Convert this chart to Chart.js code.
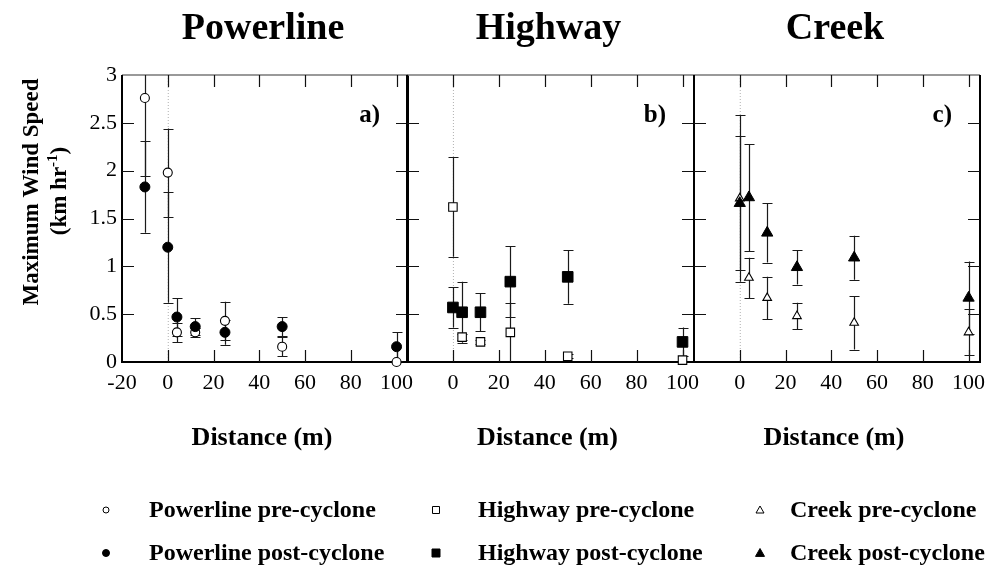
<!DOCTYPE html>
<html>
<head>
<meta charset="utf-8">
<script src="https://cdn.jsdelivr.net/npm/chart.js@4"></script>
<style>
  html, body { margin: 0; padding: 0; background: #fff; }
  #wrap { position: relative; width: 990px; height: 572px; }
  #wrap canvas { position: absolute; left: 0; top: 0; }
</style>
</head>
<body>
<div id="wrap">
  <canvas id="painelA" width="990" height="572"></canvas>
  <canvas id="painelB" width="990" height="572"></canvas>
  <canvas id="painelC" width="990" height="572"></canvas>
</div>
<script>
const SERIF = "'Liberation Serif', 'Times New Roman', serif";

// Powerline
const distPowerline = [-10, 0, 4, 12, 25, 50, 100];
const powerlinePre = [2.76, 1.98, 0.31, 0.31, 0.43, 0.16, 0.00];
const powerlinePreErro = [0.82, 0.46, 0.10, 0.05, 0.20, 0.10, 0];
const powerlinePos = [1.83, 1.20, 0.47, 0.37, 0.31, 0.37, 0.16];
const powerlinePosErro = [0.48, 0.58, 0.20, 0.09, 0.13, 0.10, 0.15];

// Highway
const distHighway = [0, 4, 12, 25, 50, 100];
const highwayPre = [1.62, 0.26, 0.21, 0.31, 0.06, 0.02];
const highwayPreErro = [0.52, 0.03, 0.02, 0.31, 0.02, 0];
const highwayPos = [0.57, 0.52, 0.52, 0.84, 0.89, 0.21];
const highwayPosErro = [0.21, 0.32, 0.20, 0.37, 0.28, 0.15];

// Creek
const distCreek = [0, 4, 12, 25, 50, 100];
const creekPre = [1.71, 0.88, 0.67, 0.48, 0.41, 0.31];
const creekPreErro = [0.87, 0.21, 0.22, 0.14, 0.28, 0.24];
const creekPos = [1.66, 1.72, 1.35, 0.99, 1.09, 0.67];
const creekPosErro = [0.70, 0.56, 0.31, 0.18, 0.23, 0.38];

const yTickLabels = ["0", "0.5", "1", "1.5", "2", "2.5", "3"];
const xTickLabels = ["-20", "0", "20", "40", "60", "80", "100"];

const titulos = ["Powerline", "Highway", "Creek"];
const letras = ["a)", "b)", "c)"];
const legendaTextos = [
    ["Powerline pre-cyclone", "Highway pre-cyclone", "Creek pre-cyclone"],
    ["Powerline post-cyclone", "Highway post-cyclone", "Creek post-cyclone"]
];

function pontos(xs, ys) {
    return xs.map((x, i) => ({ x, y: ys[i] }));
}

// barras de erro, linha do zero, moldura e ticks internos
const molduraPlugin = {
    id: "moldura",
    beforeDatasetsDraw(chart) {
        const { ctx, chartArea: a, scales } = chart;
        ctx.save();

        // linha pontilhada em x = 0
        const x0 = scales.x.getPixelForValue(0);
        ctx.strokeStyle = "#b0b0b0";
        ctx.lineWidth = 1;
        ctx.setLineDash([1, 2]);
        ctx.beginPath();
        ctx.moveTo(x0 + 0.5, a.top);
        ctx.lineTo(x0 + 0.5, a.bottom);
        ctx.stroke();
        ctx.setLineDash([]);

        // moldura
        ctx.strokeStyle = "#777";
        ctx.lineWidth = 1.5;
        ctx.beginPath();
        ctx.moveTo(a.left, a.top);
        ctx.lineTo(a.right, a.top);
        ctx.stroke();
        ctx.strokeStyle = "#000";
        ctx.lineWidth = 2;
        ctx.beginPath();
        ctx.moveTo(a.left, a.top);
        ctx.lineTo(a.left, a.bottom);
        ctx.lineTo(a.right, a.bottom);
        ctx.lineTo(a.right, a.top);
        ctx.stroke();

        // ticks para dentro
        ctx.lineWidth = 1.2;
        ctx.strokeStyle = "#111";
        const tam = 12;
        scales.x.ticks.forEach(t => {
            const px = Math.round(scales.x.getPixelForValue(t.value)) + 0.5;
            if (px <= a.left + 2) return;
            ctx.beginPath();
            ctx.moveTo(px, a.bottom);
            ctx.lineTo(px, a.bottom - tam);
            ctx.moveTo(px, a.top);
            ctx.lineTo(px, a.top + tam);
            ctx.stroke();
        });
        scales.y.ticks.forEach(t => {
            const py = Math.round(scales.y.getPixelForValue(t.value)) + 0.5;
            if (py >= a.bottom - 2 || py <= a.top + 2) return;
            ctx.beginPath();
            ctx.moveTo(a.left, py);
            ctx.lineTo(a.left + tam, py);
            ctx.moveTo(a.right, py);
            ctx.lineTo(a.right - tam, py);
            ctx.stroke();
        });

        // barras de erro
        ctx.beginPath();
        ctx.rect(a.left, a.top, a.right - a.left, a.bottom - a.top + 1);
        ctx.clip();
        ctx.strokeStyle = "#1a1a1a";
        ctx.lineWidth = 1.2;
        chart.data.datasets.forEach((ds, i) => {
            const meta = chart.getDatasetMeta(i);
            meta.data.forEach((el, j) => {
                const e = ds.erros[j];
                if (!e) return;
                const v = ds.data[j].y;
                const px = Math.round(el.x) + 0.5;
                const yTop = scales.y.getPixelForValue(v + e);
                const yBot = scales.y.getPixelForValue(Math.max(0, v - e));
                ctx.beginPath();
                ctx.moveTo(px, yTop);
                ctx.lineTo(px, yBot);
                ctx.moveTo(px - 5, Math.round(yTop) + 0.5);
                ctx.lineTo(px + 5, Math.round(yTop) + 0.5);
                if (v - e > 0) {
                    ctx.moveTo(px - 5, Math.round(yBot) + 0.5);
                    ctx.lineTo(px + 5, Math.round(yBot) + 0.5);
                }
                ctx.stroke();
            });
        });
        ctx.restore();
    }
};

// titulos, letras dos paineis e titulo do eixo x
const textosPlugin = {
    id: "textos",
    afterDraw(chart, args, opts) {
        const { ctx, chartArea: a } = chart;
        const cx = (a.left + a.right) / 2;
        ctx.save();
        ctx.fillStyle = "#000";
        ctx.textAlign = "center";
        ctx.textBaseline = "alphabetic";
        ctx.font = `bold 38px ${SERIF}`;
        ctx.fillText(opts.titulo, cx - 2, 39);

        ctx.font = `bold 26px ${SERIF}`;
        ctx.fillText("Distance (m)", cx - 3, 445);

        ctx.textAlign = "right";
        ctx.font = `bold 25px ${SERIF}`;
        ctx.fillText(opts.letra, a.right - 28, 122);
        ctx.restore();
    }
};

function desenharSimbolo(ctx, tipo, cheio, x, y) {
    ctx.beginPath();
    if (tipo === "circle") {
        ctx.arc(x, y, cheio ? 3.5 : 3, 0, Math.PI * 2);
    } else if (tipo === "rect") {
        const s = cheio ? 4 : 3.5;
        ctx.rect(x - s, y - s, 2 * s, 2 * s);
    } else {
        const s = cheio ? 4.5 : 4;
        ctx.moveTo(x, y - s);
        ctx.lineTo(x + s, y + s * 0.75);
        ctx.lineTo(x - s, y + s * 0.75);
        ctx.closePath();
    }
    ctx.fillStyle = cheio ? "#000" : "#fff";
    ctx.fill();
    ctx.strokeStyle = "#000";
    ctx.lineWidth = 1;
    ctx.stroke();
}

// eixo y e legenda (so no primeiro painel)
const extrasPlugin = {
    id: "extras",
    afterDraw(chart) {
        const { ctx } = chart;
        ctx.save();
        ctx.fillStyle = "#000";
        ctx.textAlign = "center";
        ctx.textBaseline = "middle";

        ctx.translate(32, 192);
        ctx.rotate(-Math.PI / 2);
        ctx.font = `bold 23px ${SERIF}`;
        ctx.fillText("Maximum Wind Speed", 0, 0);
        ctx.restore();

        ctx.save();
        ctx.fillStyle = "#000";
        ctx.translate(60, 191);
        ctx.rotate(-Math.PI / 2);
        ctx.textBaseline = "middle";
        ctx.textAlign = "left";
        const fNormal = `bold 23px ${SERIF}`;
        const fSup = `bold 15px ${SERIF}`;
        ctx.font = fNormal;
        const w1 = ctx.measureText("(km hr").width;
        const w3 = ctx.measureText(")").width;
        ctx.font = fSup;
        const w2 = ctx.measureText("-1").width;
        let x = -(w1 + w2 + w3) / 2;
        ctx.font = fNormal;
        ctx.fillText("(km hr", x, 0);
        x += w1;
        ctx.font = fSup;
        ctx.fillText("-1", x, -7);
        x += w2;
        ctx.font = fNormal;
        ctx.fillText(")", x, 0);
        ctx.restore();

        // legenda
        const tipos = ["circle", "rect", "triangle"];
        const simbX = [106, 436, 760];
        const textoX = [149, 478, 790];
        const linhasY = [510, 553];
        ctx.save();
        ctx.font = `bold 24px ${SERIF}`;
        ctx.textAlign = "left";
        ctx.textBaseline = "middle";
        linhasY.forEach((ly, r) => {
            tipos.forEach((t, c) => {
                desenharSimbolo(ctx, t, r === 1, simbX[c], ly);
                ctx.fillStyle = "#000";
                ctx.fillText(legendaTextos[r][c], textoX[c], ly + 1);
            });
        });
        ctx.restore();
    }
};

function criarPainel(id, idx, dist, pre, preErro, pos, posErro, estilo, raios, esquerda, direita) {
    const primeiro = idx === 0;
    const plugins = [molduraPlugin, textosPlugin];
    if (primeiro) plugins.push(extrasPlugin);

    return new Chart(document.getElementById(id), {
        type: "scatter",
        data: {
            datasets: [
                {
                    label: titulos[idx] + " post-cyclone",
                    data: pontos(dist, pos),
                    erros: posErro,
                    pointStyle: estilo,
                    pointRadius: raios[1],
                    backgroundColor: "#000",
                    borderColor: "#000",
                    borderWidth: 1,
                    clip: false
                },
                {
                    label: titulos[idx] + " pre-cyclone",
                    data: pontos(dist, pre),
                    erros: preErro,
                    pointStyle: estilo,
                    pointRadius: raios[0],
                    backgroundColor: "#fff",
                    borderColor: "#000",
                    borderWidth: 1.1,
                    clip: false
                }
            ]
        },
        plugins,
        options: {
            responsive: false,
            animation: false,
            events: [],
            layout: {
                padding: { left: primeiro ? 0 : esquerda, right: 990 - direita, top: 75, bottom: 170 }
            },
            plugins: {
                legend: { display: false },
                title: { display: false },
                tooltip: { enabled: false },
                textos: { titulo: titulos[idx], letra: letras[idx] }
            },
            scales: {
                x: {
                    type: "linear",
                    min: -20,
                    max: 105,
                    afterFit: s => {
                        s.height = 40;
                        s.paddingLeft = 0;
                        s.paddingRight = 0;
                    },
                    grid: { display: false, drawTicks: false },
                    border: { display: false },
                    ticks: {
                        stepSize: 20,
                        includeBounds: false,
                        autoSkip: false,
                        maxRotation: 0,
                        padding: 8,
                        color: "#000",
                        font: { family: SERIF, size: 22 },
                        callback: (v, i) => (!primeiro && v === -20) ? "" : xTickLabels[i]
                    }
                },
                y: {
                    min: 0,
                    max: 3,
                    afterFit: s => {
                        s.width = primeiro ? esquerda : 0;
                        s.paddingTop = 0;
                        s.paddingBottom = 0;
                    },
                    grid: { display: false, drawTicks: false },
                    border: { display: false },
                    ticks: {
                        display: primeiro,
                        stepSize: 0.5,
                        padding: 5,
                        color: "#000",
                        font: { family: SERIF, size: 22 },
                        callback: (v, i) => yTickLabels[i]
                    }
                }
            }
        }
    });
}

criarPainel("painelA", 0, distPowerline, powerlinePre, powerlinePreErro, powerlinePos, powerlinePosErro,
    "circle", [4.5, 5], 122, 408);
criarPainel("painelB", 1, distHighway, highwayPre, highwayPreErro, highwayPos, highwayPosErro,
    "rect", [6, 7.5], 407, 694);
criarPainel("painelC", 2, distCreek, creekPre, creekPreErro, creekPos, creekPosErro,
    "triangle", [5, 6.5], 694, 980);
</script>
</body>
</html>
